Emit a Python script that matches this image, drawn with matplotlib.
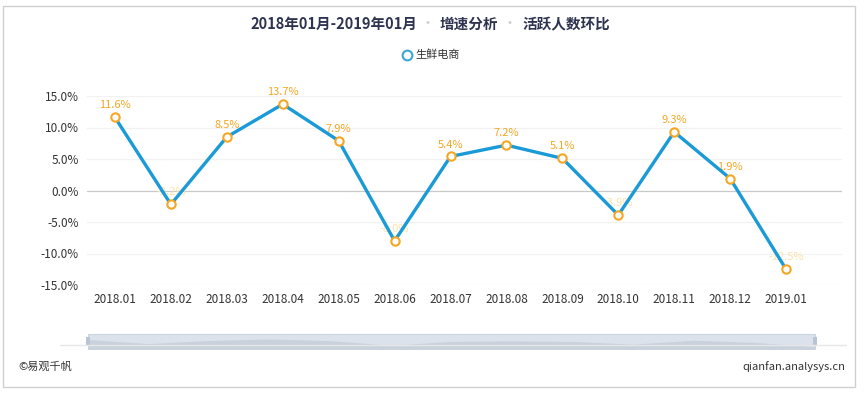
import matplotlib.pyplot as plt
import matplotlib.patches as mpatches
import numpy as np

plt.rcParams['font.family'] = ['Noto Sans CJK SC', 'DejaVu Sans']

# data
months = ['2018.01', '2018.02', '2018.03', '2018.04', '2018.05', '2018.06', '2018.07',
          '2018.08', '2018.09', '2018.10', '2018.11', '2018.12', '2019.01']
growth = [11.6, -2.2, 8.5, 13.7, 7.9, -8.0, 5.4, 7.2, 5.1, -3.9, 9.3, 1.9, -12.5]
yticks = [15, 10, 5, 0, -5, -10, -15]

title_parts = ['2018年01月-2019年01月', '增速分析', '活跃人数环比']
series_name = '生鲜电商'

line_c = '#1a9ad6'
mark_c = '#f5a623'
pale_c = '#fbe3a8'
title_c = '#2e3450'

W, H = 866, 394
fig = plt.figure(figsize=(W / 100, H / 100), dpi=100)


def fx(px):
    return px / W


def fy(py):
    return 1 - py / H


# outer border
fig.patches.append(mpatches.Rectangle((fx(3), fy(387)), 852 / W, 381 / H,
                                      transform=fig.transFigure, fill=False,
                                      edgecolor='#d0d0d0', linewidth=1))

# main plot
ax = fig.add_axes([fx(87), fy(285), (842 - 87) / W, (285 - 96) / H])
x = np.arange(len(months))
ax.plot(x, growth, color=line_c, linewidth=2.4, zorder=3)
ax.scatter(x, growth, s=36, facecolor='white', edgecolor=mark_c, linewidth=1.5, zorder=4)
for xi, v in zip(x, growth):
    c = mark_c if v >= 0 else pale_c
    ax.annotate(f'{v:.1f}%', (xi, v), xytext=(0, 5), textcoords='offset points',
                ha='center', va='bottom', fontsize=8, color=c, zorder=2)

ax.set_xlim(-0.5, 13.0)
ax.set_ylim(-15, 15)
ax.set_yticks(yticks)
ax.set_yticklabels([f'{t:.1f}%' for t in yticks])
ax.set_xticks(x)
ax.set_xticklabels(months)
ax.tick_params(length=0, labelsize=8.5, colors='#333333')
ax.tick_params(axis='y', pad=6)
ax.tick_params(axis='x', pad=6)
for t in yticks:
    ax.axhline(t, color='#c8c8c8' if t == 0 else '#f2f2f2', linewidth=0.9, zorder=1)
for s in ax.spines.values():
    s.set_visible(False)

# title
ty = fy(24)
fig.text(fx(334), ty, title_parts[0], ha='center', va='center', fontsize=10.5,
         fontweight='bold', color=title_c)
fig.text(fx(427), ty, '·', ha='center', va='center', fontsize=10, color='#cccccc')
fig.text(fx(469), ty, title_parts[1], ha='center', va='center', fontsize=10.5,
         fontweight='bold', color=title_c)
fig.text(fx(510), ty, '·', ha='center', va='center', fontsize=10, color='#cccccc')
fig.text(fx(566), ty, title_parts[2], ha='center', va='center', fontsize=10.5,
         fontweight='bold', color=title_c)

# legend
fig.lines.append(plt.Line2D([fx(407)], [fy(55)], marker='o', markersize=7,
                            markerfacecolor='white', markeredgecolor='#3aa6d8',
                            markeredgewidth=1.5, transform=fig.transFigure))
fig.text(fx(415), fy(55), series_name, ha='left', va='center', fontsize=8, color='#333333')

# data zoom slider
sax = fig.add_axes([fx(60), fy(350), (847 - 60) / W, (350 - 333) / H])
sax.set_xlim(60, 847)
sax.set_ylim(0, 1)
sax.axis('off')
sax.axhline(0.3, color='#e6e6e6', linewidth=1)
sax.add_patch(mpatches.Rectangle((88, 0.05), 815 - 88, 0.9, facecolor='#dce2eb',
                                 edgecolor='#ccd4df', linewidth=0.8))
sx = np.linspace(88, 815, len(growth))
g = np.array(growth)
sy = 0.2 + 0.45 * (g - g.min()) / (g.max() - g.min())
sax.fill_between(sx, 0.05, sy, color='#c9d1dd', linewidth=0)
for hx in (88, 815):
    sax.add_patch(mpatches.Rectangle((hx - 2, 0.25), 4, 0.5, facecolor='#b8c4d6',
                                     edgecolor='none'))

# footer
fig.text(fx(18), fy(367), '©易观千帆', ha='left', va='center', fontsize=8, color='#333333')
fig.text(fx(845), fy(367), 'qianfan.analysys.cn', ha='right', va='center', fontsize=8,
         color='#333333')

fig.savefig('out.png', dpi=100)
